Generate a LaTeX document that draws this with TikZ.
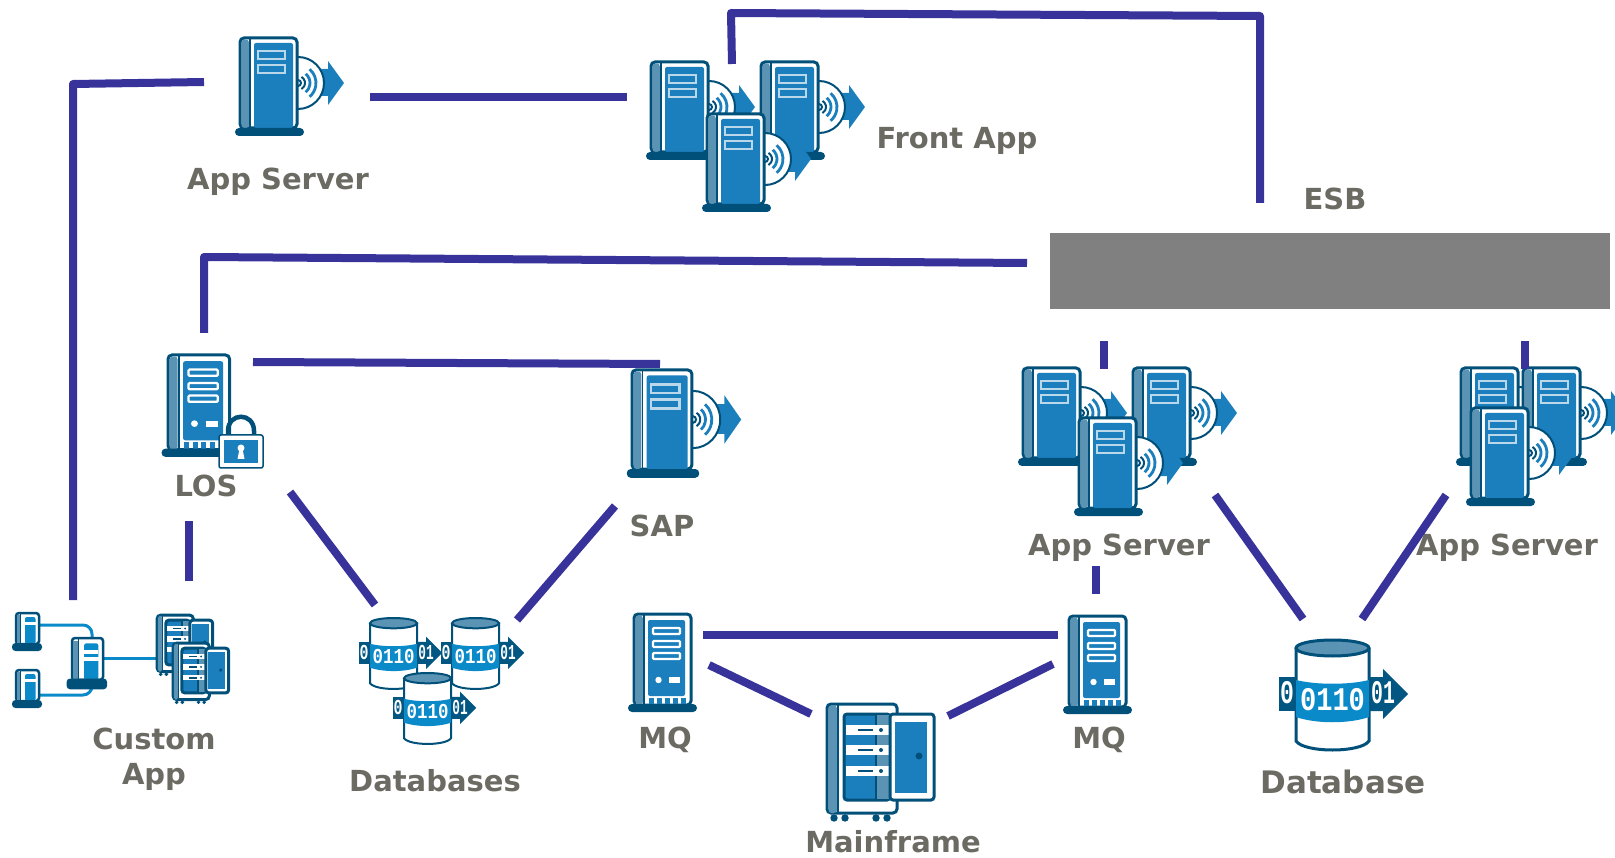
\documentclass[tikz,border=0pt]{standalone}
\usepackage{fontspec}
\setmainfont{DejaVu Sans}
\newfontfamily\digitfont{Liberation Mono}
\usetikzlibrary{calc}
\definecolor{darkb}{HTML}{00507A}
\definecolor{midb}{HTML}{1C7FBD}
\definecolor{lightb}{HTML}{5A93B3}
\definecolor{cyanb}{HTML}{0A8AC8}
\definecolor{lineb}{HTML}{38339A}
\definecolor{txtc}{HTML}{6B6B63}
\newcommand{\lblfont}[1]{\fontsize{#1}{35}\selectfont\bfseries}
\tikzset{
  drumline/.style={line width=3},
  % tower with a disc and an arrow
  pics/cdsrv/.style={code={
    \fill[midb] (75,31) -- (88,31) -- (88,23) -- (104,45) -- (88,67) -- (88,58) -- (75,58) -- cycle;
    \draw[darkb,line width=2,fill=white] (58,45) circle (26);
    \foreach \r in {12,18} {
      \draw[midb,line width=2.8] ([shift={(-50:\r)}]58,45) arc[start angle=-50,end angle=50,radius=\r];
    }
    \draw[darkb,line width=2] (58,45) circle (3);
    \draw[darkb,line width=2] ([shift={(-60:7)}]58,45) arc[start angle=-60,end angle=60,radius=7];
    \draw[darkb,line width=3,fill=white,rounded corners=4] (0,90) -- (0,0) -- (57,0) -- (57,90) -- cycle;
    \fill[lightb,rounded corners=3] (1.5,90) -- (1.5,1.5) -- (9,1.5) -- (9,90) -- cycle;
    \draw[darkb,line width=1.5] (10,1) -- (10,90);
    \fill[midb,rounded corners=2] (14,5) rectangle (53,90);
    \foreach \y in {13,27} {
      \draw[white!70!midb,line width=2.5,fill=midb] (18,\y) rectangle (45,\y+8);
    }
    \fill[darkb,rounded corners=4] (-5,90) rectangle (64,98);
  }},
  % tower with front panel and vents
  pics/rksrv/.style={code={
    \draw[darkb,line width=3,fill=white,rounded corners=4] (0,91) -- (0,0) -- (57,0) -- (57,91) -- cycle;
    \fill[lightb,rounded corners=3] (1.5,91) -- (1.5,1.5) -- (9,1.5) -- (9,91) -- cycle;
    \draw[darkb,line width=1.5] (10,1) -- (10,91);
    \fill[midb,rounded corners=2] (14,6) rectangle (51,82);
    \foreach \y in {14,27,39} {
      \draw[white,line width=2.2,fill=midb,rounded corners=1] (19,\y) rectangle (46,\y+6);
    }
    \fill[white] (24.5,66) circle (3.2);
    \fill[white] (35,63) rectangle (46,69);
    \foreach \x in {15,23,31,39,47} {
      \fill[midb] (\x,84) rectangle (\x+4.5,91);
    }
    \fill[darkb,rounded corners=4] (-6,90) rectangle (63,98);
  }},
  % padlock
  pics/padlock/.style={code={
    \draw[darkb,line width=4.5] (9,2) -- (9,-4) .. controls (9,-23) and (35,-23) .. (35,-4) -- (35,2);
    \draw[darkb,line width=1.5,fill=white,rounded corners=2] (0,0) rectangle (44,33);
    \fill[midb] (5,5) rectangle (39,28);
    \fill[white] (22,13) circle (3.5);
    \fill[white] (20.5,14) -- (23.5,14) -- (25.5,24) -- (18.5,24) -- cycle;
  }},
  % open rack cabinet
  pics/rack/.style={code={
    \foreach \x in {7,18,49,60} {\fill[darkb] (\x,114) circle (3.7);}
    \draw[darkb,line width=3,fill=white,rounded corners=4] (0,109) -- (0,0) -- (70,0) -- (70,109) -- cycle;
    \fill[lightb,rounded corners=3] (1.5,109) -- (1.5,1.5) -- (10,1.5) -- (10,109) -- cycle;
    \draw[darkb,line width=1.5] (11,1) -- (11,109);
    \draw[darkb,line width=3,fill=midb,rounded corners=3] (17,10) rectangle (63,96);
    \fill[lightb] (49,11) rectangle (62,95);
    \draw[darkb,line width=2] (49,11) -- (49,95);
    \foreach \y in {21,41,62} {
      \fill[white] (19,\y) rectangle (62,\y+10);
      \draw[darkb,line width=1.5] (31,\y+5) -- (46,\y+5);
      \fill[darkb] (54,\y+5) circle (2);
    }
    \draw[darkb,line width=3,fill=white,rounded corners=3] (63,10) rectangle (107,96);
    \fill[midb] (68,18) rectangle (100,89);
    \fill[darkb] (92,52) circle (3.5);
  }},
  % small terminal
  pics/term/.style={code={
    \draw[darkb,line width=2.5,fill=white,rounded corners=3] (0,31) -- (0,0) -- (23,0) -- (23,31) -- cycle;
    \fill[lightb] (1,31) -- (1,2) -- (4.5,2) -- (4.5,31) -- cycle;
    \draw[darkb,line width=.8] (4.5,1) -- (4.5,31);
    \fill[cyanb,rounded corners=2] (9,4) rectangle (19.5,31);
    \fill[white] (9,9) rectangle (19.5,12);
    \fill[darkb,rounded corners=3.5] (-4,30) rectangle (26,38);
  }},
  % drum with digits and arrow
  pics/drum/.style={code={
    \draw[darkb,drumline,fill=white] (0,8) -- (0,101) .. controls (8,113) and (65,113) .. (73,101) -- (73,8);
    \fill[cyanb] (0,40) .. controls (20,45) and (53,45) .. (73,40) -- (73,77) .. controls (53,84) and (20,84) .. (0,77) -- cycle;
    \fill[darkb!90!cyanb] (-17,37) rectangle (0,71);
    \fill[darkb!90!cyanb] (73,37) -- (87,37) -- (87,29) -- (112,54) -- (87,79) -- (87,71) -- (73,71) -- cycle;
    \draw[darkb,drumline,fill=lightb] (36.5,8) ellipse (36.5 and 8);
    \tikzstyle{bits}=[white,inner sep=0,transform shape,font=\digitfont\bfseries\fontsize{33}{33}\selectfont]
    \node[bits,xscale=.7] at (-9,53) {0};
    \node[bits,xscale=.82] at (36.5,60) {0110};
    \node[bits,xscale=.6] at (87,53) {01};
  }}
}
\begin{document}
\begin{tikzpicture}[x=1pt,y=-1pt]
\tikzstyle{lbl}=[text=txtc,inner sep=0,align=center]
\tikzstyle{link}=[lineb,line width=8,line join=round]
\tikzstyle{feed}=[cyanb,line width=3]
\useasboundingbox (0,0) rectangle (1615,858);

\node[fill=gray,minimum width=560,minimum height=76,inner sep=0] (esb) at (1330,271) {};

% servers
\pic (app) at (240,38) {cdsrv};
\pic (f1) at (651,62) {cdsrv};
\pic (f2) at (761,62) {cdsrv};
\pic (f3) at (707,114) {cdsrv};
\pic[xscale=1.05,yscale=1.1] (sap) at (632,370) {cdsrv};
\pic (m1) at (1023,368) {cdsrv};
\pic (m2) at (1133,368) {cdsrv};
\pic (m3) at (1079,418) {cdsrv};
\pic (r1) at (1461,368) {cdsrv};
\pic (r2) at (1523,368) {cdsrv};
\pic (r3) at (1471,408) {cdsrv};
\pic[xscale=1.08,yscale=1.04] (los) at (168,355) {rksrv};
\pic (lock) at (219,435) {padlock};
\pic (mq1) at (634,614) {rksrv};
\pic (mq2) at (1069,616) {rksrv};
\pic (main) at (827,704) {rack};

% custom app
\coordinate (t1e) at (39,625);
\coordinate (t2e) at (39,695);
\coordinate (hubn) at (92,637);
\coordinate (hubs) at (92,680);
\coordinate (hube) at (103,658);
\coordinate (rkw) at (157,658);
\draw[feed,rounded corners=9] (t1e) -- (hubn |- t1e) -- (hubn);
\draw[feed,rounded corners=9] (t2e) -- (hubs |- t2e) -- (hubs);
\draw[feed] (hube) -- (rkw);
\pic (t1) at (16,613) {term};
\pic (t2) at (16,670) {term};
\pic[scale=1.35] (hub) at (72,638) {term};
\fill[white] (80,657) rectangle (99,661);
\pic[scale=.52] (k1) at (157,615) {rack};
\pic[scale=.52] (k2) at (173,643) {rack};

% databases
\begin{scope}[drumline/.style={line width=2}]
\pic[scale=.645] (d1) at (370,618) {drum};
\pic[scale=.645] (d2) at (452,618) {drum};
\pic[scale=.645] (d3) at (404,673) {drum};
\end{scope}
\pic (db) at (1296,640) {drum};

% labels
\node[lbl,font=\lblfont{29}] (lapp) at (278,182) {App Server};
\node[lbl,font=\lblfont{29}] (lfront) at (957,141) {Front App};
\node[lbl,font=\lblfont{29}] (lesb) at (1335,199) {ESB};
\node[lbl,font=\lblfont{29}] (llos) at (206,486) {LOS};
\node[lbl,font=\lblfont{29}] (lsap) at (662,526) {SAP};
\node[lbl,font=\lblfont{29}] (lm) at (1119,548) {App Server};
\node[lbl,font=\lblfont{29}] (lr) at (1507,548) {App Server};
\node[lbl,font=\lblfont{29}] (lcust) at (154,759) {Custom\\App};
\node[lbl,font=\lblfont{29}] (ldbs) at (435,781) {Databases};
\node[lbl,font=\lblfont{29}] (lmq1) at (665,740) {MQ};
\node[lbl,font=\lblfont{29}] (lmq2) at (1099,740) {MQ};
\node[lbl,font=\lblfont{29}] (lmain) at (893,842) {Mainframe};
\node[lbl,font=\lblfont{31}] (ldb) at (1343,782) {Database};

% line ends
\coordinate (appw) at (204,82);
\coordinate (cornl) at (73,84);
\coordinate (custn) at (73,600);
\coordinate (appe) at (370,97);
\coordinate (frontw) at (627,97);
\coordinate (frontn) at (732,64);
\coordinate (cornf) at (731,13);
\coordinate (corne) at (1260,16);
\coordinate (esbn) at (1260,203);
\coordinate (esbw) at (1027,263);
\coordinate (cornc) at (204,257);
\coordinate (losn) at (204,333);
\coordinate (lose) at (253,362);
\coordinate (sapn) at (660,364);
\coordinate (loss) at (189,521);
\coordinate (custe) at (189,581);
\coordinate (losd) at (290,492);
\coordinate (dbsw) at (375,605);
\coordinate (sapd) at (615,506);
\coordinate (dbse) at (517,620);
\coordinate (mqa) at (703,635);
\coordinate (mqb) at (1058,635);
\coordinate (mqc) at (709,665);
\coordinate (mainw) at (811,714);
\coordinate (maine) at (948,716);
\coordinate (mqd) at (1053,664);
\coordinate (esbm) at (1104,341);
\coordinate (midn) at (1104,369);
\coordinate (esbr) at (1525,341);
\coordinate (rgtn) at (1525,369);
\coordinate (mids) at (1096,566);
\coordinate (mqn) at (1096,594);
\coordinate (midd) at (1215,495);
\coordinate (dbw) at (1303,619);
\coordinate (rgtd) at (1446,495);
\coordinate (dbe) at (1362,619);

\draw[link] (appw) -- (cornl) -- (custn);
\draw[link] (appe) -- (frontw);
\draw[link] (frontn) -- (cornf) -- (corne) -- (esbn);
\draw[link] (esbw) -- (cornc) -- (losn);
\draw[link] (lose) -- (sapn);
\draw[link] (loss) -- (custe);
\draw[link] (losd) -- (dbsw);
\draw[link] (sapd) -- (dbse);
\draw[link] (mqa) -- (mqb);
\draw[link] (mqc) -- (mainw);
\draw[link] (maine) -- (mqd);
\draw[link] (esbm) -- (midn);
\draw[link] (esbr) -- (rgtn);
\draw[link] (mids) -- (mqn);
\draw[link] (midd) -- (dbw);
\draw[link] (rgtd) -- (dbe);
\end{tikzpicture}
\end{document}
